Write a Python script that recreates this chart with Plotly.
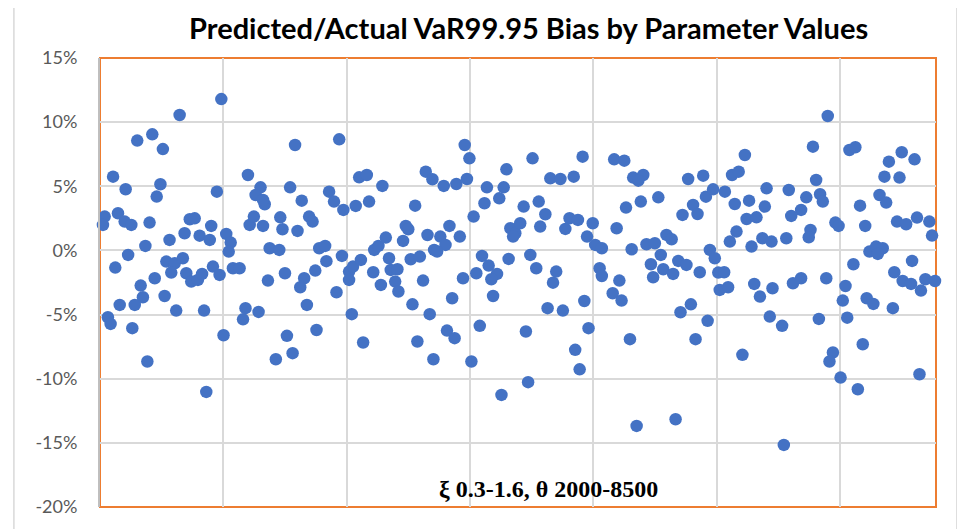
# %% [markdown]
# # VaR99.95 bias scatter

# %%
import plotly.graph_objects as go

# %%
# run index (parameter combination) and predicted/actual bias in %
run_idx = [
    49.2, 32.3, 15.1, 21.2, 25.5, 5.3, 10.4, 24.5, 23.0, 47.4, 60.0, 65.1, 63.1, 66.8, 66.1,
    1.9, 1.2, 7.3, 10.0, 12.7, 20.1, 18.4, 11.4, 6.2, 28.2, 34.3, 36.4, 38.4, 40.4, 44.5,
    45.1, 51.2, 53.0, 52.2, 60.7, 62.4, 66.1, 68.8, 26.9, 30.3, 33.6, 28.9, 35.0, 37.0, 39.7,
    41.4, 45.8, 48.5, 53.9, 56.6, 68.1, 22.2, 16.5, 17.4, 14.1, 8.0, 26.2, 30.9, 42.2, 3.2,
    4.3, 13.1, 19.2, 43.1, 50.1, 59.0, 58.0, 64.3,
    79.1, 97.0, 77.1, 81.8, 92.9, 94.9, 98.7, 103.7, 109.1, 105.1, 108.2, 114.5, 132.1, 134.8,
    127.8, 73.1, 74.0, 80.1, 84.8, 86.2, 72.7, 88.9, 91.3, 91.8, 98.1, 75.0, 82.8, 81.2,
    87.3, 83.9, 95.9, 101.0, 102.6, 105.8, 101.0, 102.1, 110.8, 111.2, 112.9, 115.9, 113.9,
    117.2, 117.9, 120.6, 119.7, 121.0, 122.9, 124.0, 125.0, 126.0, 129.7, 131.0, 132.8, 135.5,
    126.7, 133.7, 128.7, 135.2, 75.8, 78.1, 71.3, 87.8, 106.7,
    147.9, 149.8, 139.4, 144.5, 148.8, 156.9, 155.9, 161.9, 163.7, 164.8, 175.4, 171.8, 177.9,
    180.6, 178.5, 182.6, 186.7, 192.1, 195.7, 151.5, 141.7, 138.0, 140.1, 136.7, 145.9, 166.4,
    168.4, 170.4, 167.5, 188.7, 190.4, 193.8, 199.8, 197.5, 200.8, 203.5, 154.9, 157.6, 161.0,
    158.7, 152.6, 147.2, 165.7, 174.5, 176.9, 185.0, 183.7, 202.6, 203.5, 142.8, 159.4, 181.5,
    187.7, 196.4, 140.7, 143.8, 154.0, 172.7, 198.1, 192.7, 194.5, 150.6, 173.6, 162.8,
    208.5, 212.6, 216.2, 220.3, 218.3, 226.4, 219.3, 213.3, 209.5, 238.5, 244.6, 240.5, 242.3,
    236.2, 245.7, 248.6, 253.4, 261.5, 256.3, 259.0, 257.4, 263.2, 270.3, 269.6, 262.2, 266.2,
    258.1, 255.4, 264.2, 268.6, 272.3, 215.6, 221.6, 225.0, 229.7, 231.8, 227.4, 223.4, 228.4,
    224.3, 232.4, 234.5, 237.8, 243.2, 247.3, 249.3, 250.7, 253.1, 251.3, 254.7, 210.6, 207.9,
    211.5, 265.3, 267.6, 271.6, 272.7, 235.4, 239.6, 246.4, 214.9, 241.5, 260.5, 217.6, 233.4,
    295.1, 289.1, 303.9, 306.3, 319.9, 325.1, 330.3, 318.1, 324.2, 290.4, 279.3, 286.4, 292.0,
    293.1, 284.3, 280.3, 316.1, 318.8, 308.2, 288.1, 287.4, 278.3, 298.2, 299.5, 310.3, 323.2,
    326.9, 331.3, 336.3, 337.4, 312.0, 314.7, 317.4, 315.4, 329.3, 305.5, 322.1, 325.5, 328.9,
    332.9, 334.7, 338.6, 281.0, 284.3, 294.5, 302.3, 301.2, 310.9, 313.6, 321.5, 276.6, 291.5,
    303.0, 309.3, 297.2, 295.8, 300.3, 307.3, 332.3, 277.3,
]
bias_pct = [
    11.8, 10.56, 8.56, 9.05, 7.9, 5.75, 4.77, 5.16, 4.2, 4.58, 5.88, 4.92, 4.32, 3.6, 3.94,
    2.64, 1.99, 2.9, 2.25, 1.99, 2.17, 0.35, -0.35, -1.34, 0.82, 1.34, 2.43, 2.5, 1.15, 0.82,
    1.91, 1.29, 0.61, -0.09, 1.99, 2.64, 1.91, 0.17, -0.87, -1.0, -0.61, -1.73, -1.78, -2.43, -2.3,
    -1.83, -1.26, -1.91, -1.39, -1.39, -2.35, -2.17, -2.74, -3.65, -4.25, -4.25, -3.55, -4.69, -4.69, -5.21,
    -5.73, -6.06, -8.66, -11.03, -6.61, -4.5, -5.37, -4.79,
    8.22, 8.66, 4.92, 3.88, 4.58, 3.81, 3.16, 3.47, 3.81, 5.7, 5.88, 5.03, 6.14, 5.55,
    3.49, 2.58, 1.65, 1.52, 2.64, 2.25, 0.04, 0.17, 0.35, -0.84, -0.43, -1.78, -2.17, -2.87,
    -1.57, -4.25, -3.26, -1.65, -1.26, -0.74, -2.3, -4.97, -1.7, 0.04, 0.35, 1.0, -2.69,
    -0.61, -1.52, -1.47, -2.43, -3.2, 0.74, 1.91, 1.65, -0.69, -0.48, -2.35, 1.2, 0.04,
    -4.2, -4.97, -7.1, -8.48, -6.66, -8.01, -8.48, -6.2, -7.18,
    8.22, 7.18, 5.03, 5.18, 5.57, 4.92, 3.68, 4.06, 4.92, 6.32, 7.18, 3.42, 3.81,
    2.82, 1.86, 5.62, 5.57, 5.75, 7.31, 2.64, 1.91, 1.08, 0.43, -0.09, 1.08, 1.73,
    1.34, 2.12, 1.08, 1.68, 2.51, 2.38, 2.12, 1.08, 0.43, 0.17, -0.43, -1.18, -1.83,
    -2.25, -1.78, -2.17, -0.66, -0.35, -1.39, -1.65, -2.51, -1.39, -1.99, -3.73, -3.55, -4.5,
    -4.69, -3.94, -6.25, -6.84, -5.88, -6.32, -6.06, -7.75, -9.27, -8.66, -10.27, -11.26,
    7.1, 7.0, 5.68, 5.88, 5.44, 4.14, 3.81, 3.34, 1.73, 5.57, 5.83, 3.55, 2.84,
    2.77, 4.19, 4.76, 4.58, 7.44, 5.88, 6.14, 3.62, 3.88, 4.84, 3.42, 2.45, 2.58,
    1.47, 0.69, 0.3, 0.95, 0.69, 0.09, 0.48, 0.56, 1.21, 0.87, -0.35, -1.08, -1.47,
    -2.09, -1.83, -0.82, -1.13, -1.7, 0.04, -0.61, -1.73, -1.7, -3.08, -2.87, -2.35, -3.34,
    -3.91, -2.61, -3.6, -5.16, -2.95, -4.82, -4.2, -5.49, -6.92, -6.92, -8.14, -13.68, -13.16,
    10.48, 8.09, 7.83, 8.04, 6.92, 7.65, 7.1, 5.75, 5.68, 5.49, 4.71, 4.14, 4.38,
    3.81, 3.16, 2.69, 4.32, 3.73, 3.49, 1.6, 1.03, 0.95, 2.17, 1.91, 1.91, 2.25,
    2.04, 2.56, 2.25, 1.16, -0.09, 0.3, 0.17, -0.27, -0.82, -1.08, -1.7, -2.38, -2.61,
    -3.13, -2.25, -2.38, -2.56, -2.17, -2.17, -2.77, -3.91, -3.73, -4.17, -4.5, -5.88, -5.34,
    -5.24, -7.31, -7.96, -8.66, -9.91, -10.82, -9.65, -15.16,
]

y_ticks = [-20, -15, -10, -5, 0, 5, 10, 15]
y_tick_labels = ["-20%", "-15%", "-10%", "-5%", "0%", "5%", "10%", "15%"]

# %%
fig = go.Figure(
    go.Scatter(
        x=run_idx,
        y=bias_pct,
        mode="markers",
        marker=dict(size=12.5, color="#4472C4"),
        cliponaxis=False,
    )
)

# page body adds an 8px offset, so the figure is 8px smaller than the window
fig.update_layout(
    width=957,
    height=521,
    margin=dict(l=92, r=29, t=50, b=22),
    paper_bgcolor="white",
    plot_bgcolor="white",
    showlegend=False,
    title=dict(
        text="<b>Predicted/Actual VaR99.95 Bias by Parameter Values</b>",
        font=dict(family="Lato", size=29, color="black"),
        xref="container",
        x=0.544,
        xanchor="center",
        yref="container",
        y=0.96,
        yanchor="middle",
    ),
    font=dict(family="Lato", size=18, color="#595959"),
)

fig.update_xaxes(
    range=[0, 339],
    dtick=50,
    showgrid=True,
    gridcolor="#D9D9D9",
    gridwidth=1.5,
    showticklabels=False,
    zeroline=False,
    showline=False,
)

fig.update_yaxes(
    range=[-20, 15],
    tickvals=y_ticks,
    ticktext=y_tick_labels,
    showgrid=True,
    gridcolor="#D9D9D9",
    gridwidth=1.5,
    zeroline=False,
    showline=True,
    linecolor="#BFBFBF",
    linewidth=2,
    ticklabelstandoff=17,
)

# orange plot-area frame
fig.add_shape(
    type="rect", xref="paper", yref="paper", x0=0, x1=1, y0=0, y1=1,
    line=dict(color="#ED7D31", width=2), layer="between",
)
# light chart-area border
fig.add_shape(
    type="rect", xref="paper", yref="paper",
    x0=-0.103, x1=1.025, y0=-0.07, y1=1.123,
    line=dict(color="#D9D9D9", width=1.5), layer="below",
)

fig.add_annotation(
    text="<b>ξ 0.3-1.6, θ 2000-8500</b>",
    xref="paper", yref="paper",
    x=0.536, y=0.04,
    xanchor="center", yanchor="middle",
    showarrow=False,
    font=dict(family="Liberation Serif", size=24, color="black"),
)

# %%
fig.write_html("out.html")
